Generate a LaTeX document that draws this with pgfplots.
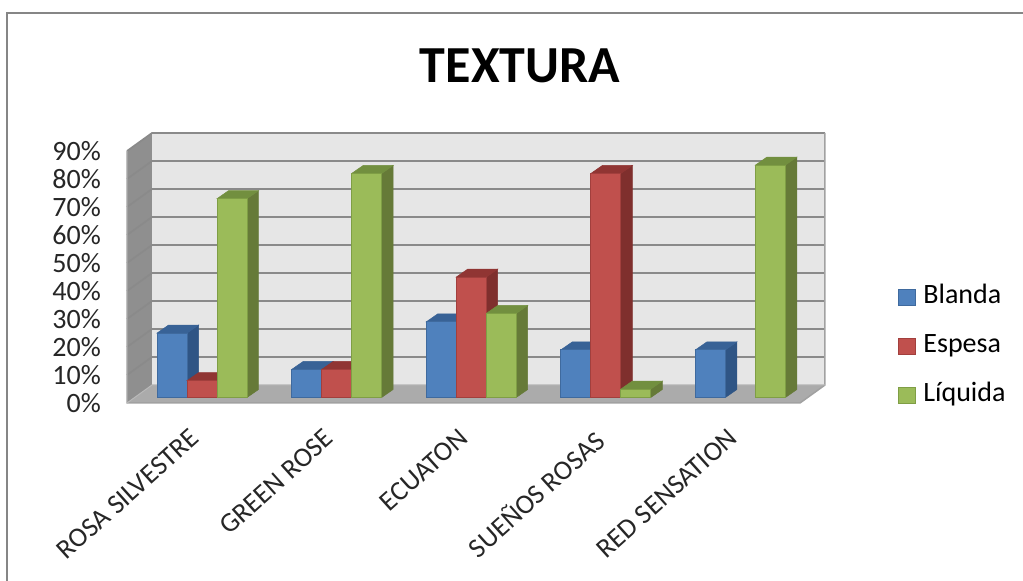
\documentclass[border=0pt]{standalone}
\usepackage{pgfplots}
\pgfplotsset{compat=1.18}
\usepackage{fontspec}
\setmainfont{Carlito}
\definecolor{wallback}{HTML}{E6E6E6}
\definecolor{wallleft}{HTML}{8F8F8F}
\definecolor{floorc}{HTML}{ABABAB}
\definecolor{gridc}{HTML}{8A8A8A}
\definecolor{framec}{HTML}{868686}
\definecolor{blueF}{HTML}{4F81BD}
\definecolor{blueE}{HTML}{3F6A9E}
\definecolor{blueS}{HTML}{2F5585}
\definecolor{blueT}{HTML}{386296}
\definecolor{redF}{HTML}{C0504D}
\definecolor{redE}{HTML}{A23F3D}
\definecolor{redS}{HTML}{7F2F2D}
\definecolor{redT}{HTML}{903533}
\definecolor{greenF}{HTML}{9BBB59}
\definecolor{greenE}{HTML}{7F9E45}
\definecolor{greenS}{HTML}{667A38}
\definecolor{greenT}{HTML}{728F3F}
% side and top faces of one bar: group, left offset, value, side colour, top colour
\newcommand{\barfaces}[5]{%
  \pgfmathsetmacro\xl{#1+(#2)/134.6}%
  \pgfmathsetmacro\xr{#1+(#2+30)/134.6}%
  \pgfmathsetmacro\xlb{\xl+11.5/134.6}%
  \pgfmathsetmacro\xrb{\xr+11.5/134.6}%
  \pgfmathsetmacro\vb{#3+2.857}%
  \addplot[forget plot,fill=#4,draw=#4,line width=0.5pt,yshift=5.5pt]
    coordinates {(\xr,0)(\xrb,2.857)(\xrb,\vb)(\xr,#3)} -- cycle;
  \addplot[forget plot,fill=#5,draw=#5,line width=0.5pt,yshift=5.5pt]
    coordinates {(\xl,#3)(\xr,#3)(\xrb,\vb)(\xlb,\vb)} -- cycle;
}
% one horizontal rule across both walls
\newcommand{\wallrule}[1]{%
  \pgfmathsetmacro\ra{#1+6.4286}%
  \addplot[forget plot,draw=gridc,line width=1.7pt]
    coordinates {(-0.5,#1)(-0.3143,\ra)(4.6857,\ra)};
}
\pgfplotsset{
  solid bar/.style n args={2}{ybar,bar width=30pt,yshift=5.5pt,fill=#1,draw=#2,line width=1pt},
  key box/.style n args={2}{legend image code/.code={
    \draw[fill=#1,draw=#2,line width=1.2pt] (0pt,-8pt) rectangle (17pt,8pt);}},
}
\begin{document}
\begin{tikzpicture}
\path[use as bounding box] (0,0) rectangle (1023pt,581pt);
% chart frame: top and left edges
\draw[framec,line width=2.5pt] (7pt,0pt) -- (7pt,568pt) -- (1023pt,568pt);
\begin{axis}[
  at={(127pt,178pt)},anchor=south west,
  scale only axis,width=673pt,height=252pt,
  clip=false,
  xmin=-0.5,xmax=4.5,ymin=0,ymax=90,
  axis line style={draw=none},
  tick style={draw=none},
  xtick={0,1,2,3,4},
  xticklabels={ROSA SILVESTRE,GREEN ROSE,ECUATON,SUEÑOS ROSAS,RED SENSATION},
  x tick label style={rotate=42,anchor=north east,font=\fontsize{27.5}{27.5}\selectfont,
    text=black!85,xshift=-20.5pt,yshift=-14pt,inner sep=0pt},
  ytick={0,10,20,30,40,50,60,70,80,90},
  yticklabels={0\%,10\%,20\%,30\%,40\%,50\%,60\%,70\%,80\%,90\%},
  y tick label style={anchor=east,font=\fontsize{28}{28}\selectfont,text=black!85,
    xshift=-26pt,inner sep=0pt},
  title={\textbf{TEXTURA}},
  title style={at={(0.584,1.314)},anchor=center,font=\fontsize{52}{52}\selectfont},
  legend style={draw=none,fill=none,at={(1.1456,0.468)},anchor=north west,inner sep=0pt,
    font=\fontsize{28}{28}\selectfont,row sep=25pt,
    nodes={inner sep=0pt,text height=18pt,text depth=6pt,anchor=base west},
    /tikz/every odd column/.append style={column sep=7pt}},
  legend cell align=left,
]
% back wall, left wall, floor
\addplot[forget plot,fill=wallback,draw=none] coordinates {(-0.3143,6.4286)(4.6857,6.4286)(4.6857,96.4286)(-0.3143,96.4286)} -- cycle;
\addplot[forget plot,fill=wallleft,draw=none] coordinates {(-0.5,0)(-0.3143,6.4286)(-0.3143,96.4286)(-0.5,90)} -- cycle;
\addplot[forget plot,fill=floorc,draw=none] coordinates {(-0.5,0)(4.5,0)(4.6857,6.4286)(-0.3143,6.4286)} -- cycle;
\wallrule{10}\wallrule{20}\wallrule{30}\wallrule{40}\wallrule{50}
\wallrule{60}\wallrule{70}\wallrule{80}\wallrule{90}
\addplot[forget plot,draw=gridc!80,line width=1.5pt] coordinates {(-0.5,90)(-0.5,0)(4.5,0)(4.6857,6.4286)(4.6857,96.4286)};
\addplot[forget plot,draw=gridc!60,line width=1pt] coordinates {(-0.5,0)(-0.3143,6.4286)(4.6857,6.4286)};

% Blanda
\barfaces{0}{-37.3}{23}{blueS}{blueT}
\barfaces{1}{-37.3}{10}{blueS}{blueT}
\barfaces{2}{-37.3}{27}{blueS}{blueT}
\barfaces{3}{-37.3}{17}{blueS}{blueT}
\barfaces{4}{-37.3}{17}{blueS}{blueT}
\addplot[solid bar={blueF}{blueE},bar shift=-22.3pt,key box={blueF}{blueE}]
  coordinates {(0,23)(1,10)(2,27)(3,17)(4,17)};
\addlegendentry{Blanda}

% Espesa
\barfaces{0}{-7.3}{6}{redS}{redT}
\barfaces{1}{-7.3}{10}{redS}{redT}
\barfaces{2}{-7.3}{43}{redS}{redT}
\barfaces{3}{-7.3}{80}{redS}{redT}
\addplot[solid bar={redF}{redE},bar shift=7.7pt,key box={redF}{redE}]
  coordinates {(0,6)(1,10)(2,43)(3,80)};
\addlegendentry{Espesa}

% Líquida
\barfaces{0}{22.7}{71}{greenS}{greenT}
\barfaces{1}{22.7}{80}{greenS}{greenT}
\barfaces{2}{22.7}{30}{greenS}{greenT}
\barfaces{3}{22.7}{3}{greenS}{greenT}
\barfaces{4}{22.7}{83}{greenS}{greenT}
\addplot[solid bar={greenF}{greenE},bar shift=37.7pt,key box={greenF}{greenE}]
  coordinates {(0,71)(1,80)(2,30)(3,3)(4,83)};
\addlegendentry{Líquida}
\end{axis}
\end{tikzpicture}
\end{document}
